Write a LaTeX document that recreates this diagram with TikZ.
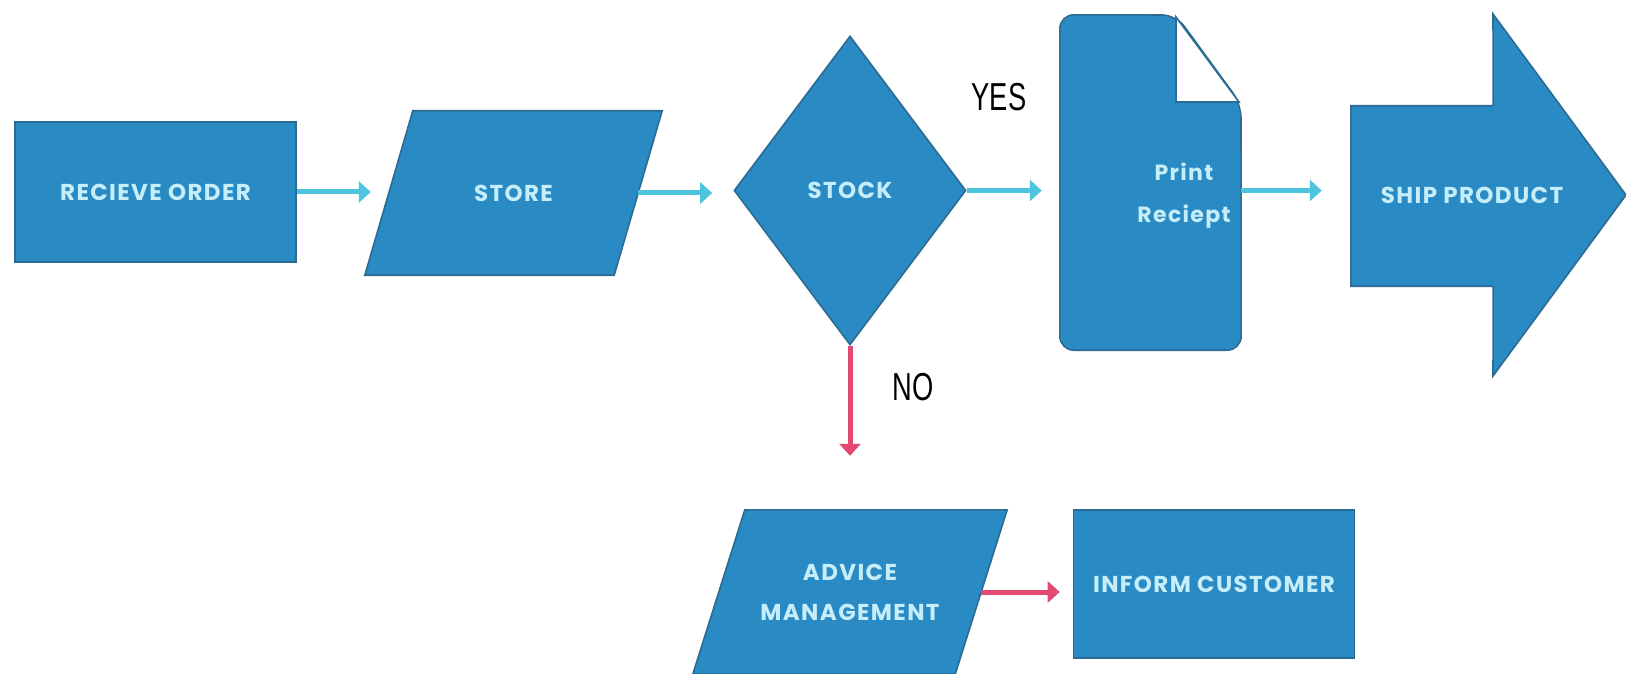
\documentclass[tikz,border=0pt]{standalone}
\usepackage{fontspec}
\usepackage{tikz}
\usetikzlibrary{shapes.geometric,arrows.meta,backgrounds}
\newfontfamily\boxfont[LetterSpace=6]{Poppins}
\newfontfamily\labelfont[FakeStretch=0.7]{Liberation Sans}
\definecolor{blockfill}{HTML}{2A8AC4}
\definecolor{blockedge}{HTML}{2C6B92}
\definecolor{blocktext}{HTML}{C5EEFA}
\definecolor{flowcyan}{HTML}{4FC4DF}
\definecolor{flowred}{HTML}{E24A72}
% parallelogram behind a named node: node, horizontal shift of the corners
\newcommand{\slantbox}[2]{%
    \begin{pgfonlayer}{background}
    \draw[blockbox] ([xshift=#2]#1.north west) -- ([xshift=#2]#1.north east)
        -- ([xshift=-#2]#1.south east) -- ([xshift=-#2]#1.south west) -- cycle;
    \end{pgfonlayer}}

\begin{document}
\begin{tikzpicture}[x=1pt,y=-1pt,
    blockbox/.style={draw=blockedge, fill=blockfill, line width=1.6pt,
        text=blocktext, align=center, inner sep=0pt,
        font=\boxfont\bfseries\fontsize{23}{40}\selectfont},
    procbox/.style={blockbox, rectangle, minimum width=281pt, minimum height=140pt},
    iobox/.style={rectangle, text=blocktext, align=center, minimum height=164pt,
        font=\boxfont\bfseries\fontsize{23}{40}\selectfont},
    decbox/.style={blockbox, diamond, minimum width=232pt, minimum height=309pt},
    yesline/.style={draw=flowcyan, line width=5pt, -{Triangle[length=12pt,width=21pt]}},
    noline/.style={draw=flowred, line width=5pt, -{Triangle[length=12pt,width=21pt]}},
    edgelabel/.style={font=\labelfont\fontsize{39}{40}\selectfont, inner sep=0pt}]
    \useasboundingbox (0,0) rectangle (1626,674);

    % top row
    \node[procbox] (recv) at (155.5,192) {RECIEVE ORDER};
    \node[iobox, minimum width=249pt] (store) at (513.5,193) {STORE};
    \slantbox{store}{24pt}
    \node[decbox] (stock) at (850,190.5) {STOCK};
    \node[minimum width=181pt, minimum height=335pt] (print) at (1150.5,182.5) {};
    \draw[blockbox, rounded corners=14pt] (print.north west) -- (1176,15) -- (1241,104)
        -- (print.south east) -- (print.south west) -- cycle;
    \draw[draw=blockedge, fill=white, line width=1.6pt] (1176,17) -- (1176,102) -- (1239,102) -- cycle;
    \node[text=blocktext, align=center, font=\boxfont\bfseries\fontsize{22}{42}\selectfont]
        (printtxt) at (1184,196) {Print\\Reciept};
    \node[minimum width=142pt, minimum height=180pt] (ship) at (1422,196) {};
    \draw[blockbox] (ship.north west) -- (ship.north east) -- (1493,14) -- (1626,195)
        -- (1493,376) -- (ship.south east) -- (ship.south west) -- cycle;
    \node[text=blocktext, font=\boxfont\bfseries\fontsize{23}{40}\selectfont]
        (shiptxt) at (1472,195) {SHIP PRODUCT};

    % bottom row
    \node[iobox, minimum width=262pt] (advice) at (850,592) {ADVICE\\MANAGEMENT};
    \slantbox{advice}{26pt}
    \node[procbox, minimum height=148pt] (inform) at (1214,584) {INFORM CUSTOMER};

    \node[edgelabel] (yes) at (999,97) {YES};
    \node[edgelabel] (no) at (913,387) {NO};

    \draw[yesline, shorten >=18pt] (recv.east) -- (recv.east -| store.west);
    \draw[yesline, shorten >=21pt] (store.east) -- (store.east -| stock.west);
    \draw[yesline, shorten >=18pt] (stock.east) -- (stock.east -| print.west);
    \draw[yesline, shorten >=29pt] (stock.east -| print.east) -- (stock.east -| ship.west);
    \draw[noline, shorten >=54pt] (stock.south) -- (stock.south |- advice.north);
    \draw[noline, shorten >=13pt] (advice.east) -- (advice.east -| inform.west);

\end{tikzpicture}
\end{document}
